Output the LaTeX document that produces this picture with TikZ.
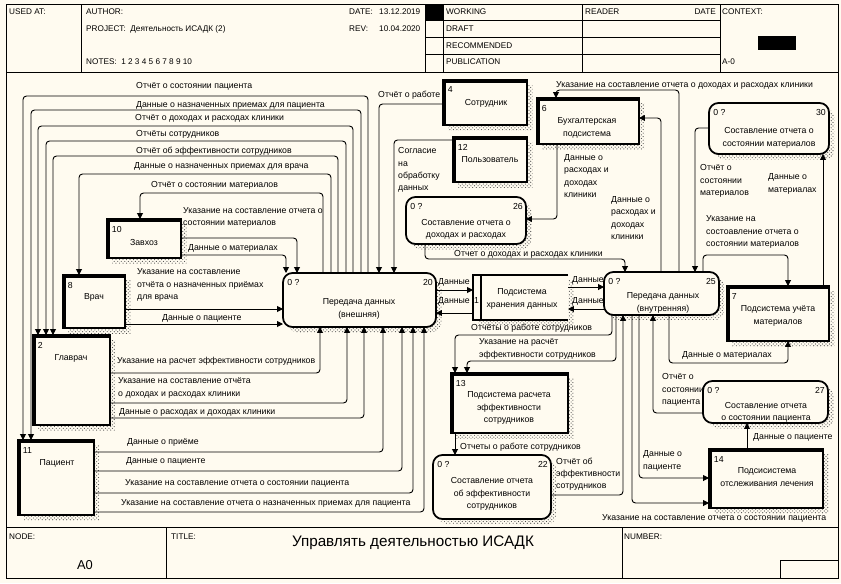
\documentclass[tikz,border=0pt]{standalone}
\usepackage{fontspec}
\setmainfont{Liberation Sans}
\usepackage{tikz}
\usetikzlibrary{arrows.meta,patterns}

\definecolor{paper}{RGB}{255,251,240}
\newcommand{\pxu}{0.03cm}

\tikzset{
  frame/.style={line width=0.8pt},
  txt/.style={font=\fontsize{7.45}{10.5}\selectfont, inner sep=0pt, anchor=west, align=left},
  hdr/.style={font=\fontsize{7}{8}\selectfont, inner sep=0pt, anchor=west},
  boxname/.style={font=\fontsize{7.45}{10.5}\selectfont, inner sep=0pt, align=center},
  tag/.style={font=\fontsize{7.45}{8}\selectfont, inner sep=0pt},
  hatched/.style={preaction={draw=none, pattern=crosshatch dots, pattern color=black!70,
      transform canvas={xshift=4.5pt, yshift=-4.5pt}}},
  entity/.style={draw, line width=1.4pt, fill=paper, inner sep=0pt, outer sep=0pt, hatched,
      path picture={\draw[line width=5pt] (path picture bounding box.south west)
        -- (path picture bounding box.north west) -- (path picture bounding box.north east);}},
  process/.style={draw, line width=1.5pt, rounded corners=8pt, fill=paper,
      inner sep=0pt, outer sep=0pt, hatched},
  flow/.style={->, line width=0.8pt, rounded corners=3pt},
  >={Triangle[length=5pt,width=5pt]}
}

\begin{document}
\begin{tikzpicture}[x=\pxu, y=-\pxu]
    \fill[paper] (0,0) rectangle (841,583);
    \useasboundingbox (0,0) rectangle (841,583);

    % frame, header and footer
    \draw[frame] (6,4) rectangle (838,578);
    \draw[frame] (6,72) -- (838,72);
    \draw[frame] (81,4) -- (81,72);
    \draw[frame] (425,4) -- (425,72);
    \draw[frame] (443,4) -- (443,72);
    \draw[frame] (582,4) -- (582,72);
    \draw[frame] (720,4) -- (720,72);
    \foreach \yy in {20.5,37.5,54.5}
        \draw[frame] (425,\yy) -- (720,\yy);
    \fill (425,4) rectangle (443,20.5);
    \fill (758,36) rectangle (796,50);
    \draw[frame] (6,527) -- (838,527);
    \draw[frame] (166,527) -- (166,578);
    \draw[frame] (622,527) -- (622,578);
    \draw[frame] (780,560) rectangle (838,578);

    \node[hdr] (usedat) at (9,12) {USED AT:};
    \node[hdr] (author) at (86,12) {AUTHOR:};
    \node[hdr] (project) at (86,29) {PROJECT:\ \ Деятельность ИСАДК (2)};
    \node[hdr] (notes) at (86,62) {NOTES:\ \ 1 2 3 4 5 6 7 8 9 10};
    \node[hdr] (date) at (349,12) {DATE:};
    \node[hdr] (dateval) at (379,12) {13.12.2019};
    \node[hdr] (rev) at (349,29) {REV:};
    \node[hdr] (revval) at (379,29) {10.04.2020};
    \node[hdr] (working) at (446,12) {WORKING};
    \node[hdr] (draft) at (446,29) {DRAFT};
    \node[hdr] (recom) at (446,46) {RECOMMENDED};
    \node[hdr] (publ) at (446,62) {PUBLICATION};
    \node[hdr] (reader) at (585,12) {READER};
    \node[hdr, anchor=east] (rdate) at (716,12) {DATE};
    \node[hdr] (context) at (722,12) {CONTEXT:};
    \node[hdr] (aminus) at (722,62) {A-0};
    \node[hdr] (nodelbl) at (9,537) {NODE:};
    \node[font=\fontsize{11}{13}\selectfont, inner sep=0pt] (nodeval) at (85,565) {A0};
    \node[hdr] (titlelbl) at (171,537) {TITLE:};
    \node[font=\fontsize{13}{15}\selectfont, inner sep=0pt] (title) at (413,543) {Управлять деятельностью ИСАДК};
    \node[hdr] (number) at (624,537) {NUMBER:};

    % external entities
    \node[entity, minimum width=74*\pxu, minimum height=39*\pxu,
          label={[tag, anchor=north west, shift={(4pt,-6.4pt)}]north west:10}] (zavhoz) at (144,238.5) {};
    \node[entity, minimum width=62*\pxu, minimum height=53*\pxu,
          label={[tag, anchor=north west, shift={(4pt,-6.4pt)}]north west:8}] (vrach) at (94,301.5) {};
    \node[entity, minimum width=77*\pxu, minimum height=90*\pxu,
          label={[tag, anchor=north west, shift={(4pt,-6.4pt)}]north west:2}] (glavrach) at (71.5,380) {};
    \node[entity, minimum width=76*\pxu, minimum height=75*\pxu,
          label={[tag, anchor=north west, shift={(4pt,-6.4pt)}]north west:11}] (pacient) at (56,477.5) {};
    \node[entity, minimum width=84*\pxu, minimum height=45*\pxu,
          label={[tag, anchor=north west, shift={(4pt,-5pt)}]north west:4}] (sotrudnik) at (485,102.5) {};
    \node[entity, minimum width=74*\pxu, minimum height=45*\pxu,
          label={[tag, anchor=north west, shift={(4pt,-6.4pt)}]north west:12}] (polzov) at (490,159.5) {};
    \node[entity, minimum width=102*\pxu, minimum height=46*\pxu,
          label={[tag, anchor=north west, shift={(4pt,-6.4pt)}]north west:6}] (buhg) at (588,121) {};
    \node[entity, minimum width=102*\pxu, minimum height=55*\pxu,
          label={[tag, anchor=north west, shift={(4pt,-6.4pt)}]north west:7}] (ps7) at (778,313.5) {};
    \node[entity, minimum width=117*\pxu, minimum height=60*\pxu,
          label={[tag, anchor=north west, shift={(4pt,-6.4pt)}]north west:13}] (ps13) at (509.5,403) {};
    \node[entity, minimum width=114*\pxu, minimum height=59*\pxu,
          label={[tag, anchor=north west, shift={(4pt,-6.4pt)}]north west:14}] (ps14) at (766,478.5) {};

    % processes
    \node[process, minimum width=153*\pxu, minimum height=54*\pxu,
          label={[tag, anchor=north west, shift={(3.5pt,-5.5pt)}]north west:0 ?},
          label={[tag, anchor=north east, shift={(-2.6pt,-5.5pt)}]north east:20}] (pd20) at (359.5,300) {};
    \node[process, minimum width=115*\pxu, minimum height=43*\pxu,
          label={[tag, anchor=north west, shift={(3.5pt,-5.5pt)}]north west:0 ?},
          label={[tag, anchor=north east, shift={(-2.6pt,-5.5pt)}]north east:25}] (pd25) at (661.5,293.5) {};
    \node[process, minimum width=120*\pxu, minimum height=47*\pxu,
          label={[tag, anchor=north west, shift={(3.5pt,-5.5pt)}]north west:0 ?},
          label={[tag, anchor=north east, shift={(-2.6pt,-5.5pt)}]north east:26}] (ot26) at (466,220.5) {};
    \node[process, minimum width=120*\pxu, minimum height=51*\pxu,
          label={[tag, anchor=north west, shift={(3.5pt,-5.5pt)}]north west:0 ?},
          label={[tag, anchor=north east, shift={(-2.6pt,-5.5pt)}]north east:30}] (ot30) at (769,128.5) {};
    \node[process, minimum width=118*\pxu, minimum height=64*\pxu,
          label={[tag, anchor=north west, shift={(3.5pt,-5.5pt)}]north west:0 ?},
          label={[tag, anchor=north east, shift={(-2.6pt,-5.5pt)}]north east:22}] (ot22) at (492,487) {};
    \node[process, minimum width=125*\pxu, minimum height=42*\pxu,
          label={[tag, anchor=north west, shift={(3.5pt,-5.5pt)}]north west:0 ?},
          label={[tag, anchor=north east, shift={(-2.6pt,-5.5pt)}]north east:27}] (ot27) at (765.5,402) {};

    % data store
    \node[hatched, fill=paper, inner sep=0pt, outer sep=0pt, minimum width=95*\pxu,
          minimum height=45*\pxu] (ps1) at (520.5,297.5) {};
    \draw[line width=1.5pt] (ps1.north east) -- (ps1.north west) -- (ps1.south west) -- (ps1.south east);
    \draw[line width=1.5pt] ([xshift=6.8pt]ps1.north west) -- ([xshift=6.8pt]ps1.south west);
    \node[tag] (n1) at (476.5,300) {1};

    % names in the boxes
    \node[boxname] (t10) at (144,242) {Завхоз};
    \node[boxname] (t8) at (94,297) {Врач};
    \node[boxname] (t2) at (71,358) {Главрач};
    \node[boxname] (t11) at (57,463) {Пациент};
    \node[boxname] (t4) at (486,103) {Сотрудник};
    \node[boxname] (t12) at (490,160) {Пользователь};
    \node[boxname] (t6) at (587,128) {Бухгалтерская\\подсистема};
    \node[boxname] (t7) at (778,316) {Подсистема учёта\\материалов};
    \node[boxname] (t13) at (509,408) {Подсистема расчета\\эффективности\\сотрудников};
    \node[boxname] (t14) at (767,477) {Подсисистема\\отслеживания лечения};
    \node[boxname] (t20) at (359,309) {Передача данных\\(внешняя)};
    \node[boxname] (t25) at (663,303) {Передача данных\\(внутренняя)};
    \node[boxname] (t26) at (466,229.5) {Составление отчета о\\доходах и расходах};
    \node[boxname] (t30) at (769,138) {Составление отчета о\\состоянии материалов};
    \node[boxname] (t22) at (492,494) {Составление отчета\\об эффективности\\сотрудников};
    \node[boxname] (t27) at (766,412) {Составление отчета\\о состоянии пациента};
    \node[boxname] (t1) at (522,299) {Подсистема\\хранения данных};

    % flows back to the roles
    \draw[flow] (pd20.north -| 368,0) |- (23,96) -- (pacient.north -| 23,0);
    \draw[flow] (pd20.north -| 361,0) |- (31,110) -- (pacient.north -| 31,0);
    \draw[flow] (pd20.north -| 353,0) |- (38,126) -- (glavrach.north -| 38,0);
    \draw[flow] (pd20.north -| 346,0) |- (46,141) -- (glavrach.north -| 46,0);
    \draw[flow] (pd20.north -| 338,0) |- (53,156) -- (glavrach.north -| 53,0);
    \draw[flow] (pd20.north -| 331,0) |- (79,174) -- (vrach.north -| 79,0);
    \draw[flow] (pd20.north -| 323,0) |- (140,193) -- (zavhoz.north -| 140,0);

    % flows from the roles
    \draw[flow] (zavhoz.east |- 0,238) -| (pd20.north -| 297,0);
    \draw[flow] (zavhoz.east |- 0,255) -| (pd20.north -| 286,0);
    \draw[flow] (vrach.east |- 0,309) -- (pd20.west |- 0,309);
    \draw[flow] (vrach.east |- 0,324) -- (pd20.west |- 0,324);
    \draw[flow] (glavrach.east |- 0,373) -| (pd20.south -| 320,0);
    \draw[flow] (glavrach.east |- 0,403) -| (pd20.south -| 347,0);
    \draw[flow] (glavrach.east |- 0,418) -| (pd20.south -| 364,0);
    \draw[flow] (pacient.east |- 0,452) -| (pd20.south -| 383,0);
    \draw[flow] (pacient.east |- 0,471) -| (pd20.south -| 402,0);
    \draw[flow] (pacient.east |- 0,493) -| (pd20.south -| 413,0);
    \draw[flow] (pacient.east |- 0,512) -| (pd20.south -| 424,0);
    \draw[flow] (sotrudnik.west |- 0,104) -| (pd20.north -| 379,0);
    \draw[flow] (polzov.west |- 0,140) -| (pd20.north -| 394,0);

    % accounting and reports
    \draw[flow] (buhg.south -| 557,0) |- (ot26.east |- 0,219);
    \draw[flow] (ot26.south -| 425,0) |- (625,259) -- (pd25.north -| 625,0);
    \draw[flow] (pd25.north -| 679,0) |- (556,90) -- (buhg.north -| 556,0);
    \draw[flow] (pd25.north -| 661,0) |- (buhg.east |- 0,118);
    \draw[flow] (ot30.west |- 0,128) -| (pd25.north -| 695,0);
    \draw[flow] (ps7.north -| 823,0) -- (ot30.south -| 823,0);
    \draw[flow] (pd25.north -| 703,0) |- (788,255) -- (ps7.north -| 788,0);

    % data store
    \draw[flow] (pd20.east |- 0,290) -- (ps1.west |- 0,290);
    \draw[flow] (ps1.west |- 0,313) -- (pd20.east |- 0,313);
    \draw[flow] (ps1.east |- 0,287) -- (pd25.west |- 0,287);
    \draw[flow] (pd25.west |- 0,309) -- (ps1.east |- 0,309);

    % internal transfer, lower part
    \draw[flow] (pd25.south -| 612,0) |- (455,335) -- (ps13.north -| 455,0);
    \draw[flow] (pd25.south -| 616,0) |- (467,361) -- (ps13.north -| 467,0);
    \draw[flow] (ot22.east |- 0,495) -| (pd25.south -| 623,0);
    \draw[flow] (pd25.south -| 632,0) |- (ps14.west |- 0,503);
    \draw[flow] (pd25.south -| 639,0) |- (ps14.west |- 0,478);
    \draw[flow] (ot27.west |- 0,413) -| (pd25.south -| 653,0);
    \draw[flow] (pd25.south -| 669,0) |- (788,363) -- (ps7.south -| 788,0);
    \draw[flow] (ps14.north -| 747,0) -- (ot27.south -| 747,0);
    \draw[flow] (ps13.south -| 455,0) -- (ot22.north -| 455,0);

    % labels on the flows
    \node[txt] (l1) at (136,86) {Отчёт о состоянии пациента};
    \node[txt] (l2) at (136,105) {Данные о назначенных приемах для пациента};
    \node[txt] (l3) at (135,118) {Отчёт о доходах и расходах клиники};
    \node[txt] (l4) at (136,134) {Отчёты сотрудников};
    \node[txt] (l5) at (136,151) {Отчёт об эффективности сотрудников};
    \node[txt] (l6) at (134,166) {Данные о назначенных приемах для врача};
    \node[txt] (l7) at (151,185) {Отчёт о состоянии материалов};
    \node[txt] (l8) at (183,217.5) {Указание на составление отчета о\\состоянии материалов};
    \node[txt] (l9) at (188,248) {Данные о материалах};
    \node[txt] (l10) at (137,285) {Указание на составление\\отчёта о назначенных приёмах\\для врача};
    \node[txt] (l11) at (162,318) {Данные о пациенте};
    \node[txt] (l12) at (117,361) {Указание на расчет эффективности сотрудников};
    \node[txt] (l13) at (118,388) {Указание на составление отчёта\\о доходах и расходах клиники};
    \node[txt] (l14) at (119,412) {Данные о расходах и доходах клиники};
    \node[txt] (l15) at (127,442) {Данные о приёме};
    \node[txt] (l16) at (126,461) {Данные о пациенте};
    \node[txt] (l17) at (125,483) {Указание на составление отчета о состоянии пациента};
    \node[txt] (l18) at (121,503) {Указание на составление отчета о назначенных приемах для пациента};
    \node[txt] (l19) at (378,95) {Отчёт о работе};
    \node[txt] (l20) at (398,170) {Согласие\\на\\обработку\\данных};
    \node[txt] (l21) at (564,176) {Данные о\\расходах и\\доходах\\клиники};
    \node[txt] (l22) at (454,254) {Отчет о доходах и расходах клиники};
    \node[txt] (l23) at (556,85) {Указание на составление отчета о доходах и расходах клиники};
    \node[txt] (l24) at (611,218) {Данные о\\расходах и\\доходах\\клиники};
    \node[txt] (l25) at (700,181) {Отчёт о\\состоянии\\материалов};
    \node[txt] (l26) at (768,184) {Данные о\\материалах};
    \node[txt] (l27) at (706,232) {Указание на\\состоавление отчета о\\состоянии материалов};
    \node[txt] (l28) at (438,282) {Данные};
    \node[txt] (l29) at (438,301) {Данные};
    \node[txt] (l30) at (572,280) {Данные};
    \node[txt] (l31) at (572,301) {Данные};
    \node[txt] (l32) at (471,328) {Отчёты о работе сотрудников};
    \node[txt] (l33) at (479,349) {Указание на расчёт\\эффективности сотрудников};
    \node[txt] (l34) at (556,474) {Отчёт об\\эффективности\\сотрудников};
    \node[txt] (l35) at (602,518) {Указание на составление отчета о состоянии пациента};
    \node[txt] (l36) at (643,461) {Данные о\\пациенте};
    \node[txt] (l37) at (662,390) {Отчёт о\\состоянии\\пациента};
    \node[txt] (l38) at (682,355) {Данные о материалах};
    \node[txt] (l39) at (753,437) {Данные о пациенте};
    \node[txt] (l40) at (460,447) {Отчеты о работе сотрудников};
\end{tikzpicture}
\end{document}
